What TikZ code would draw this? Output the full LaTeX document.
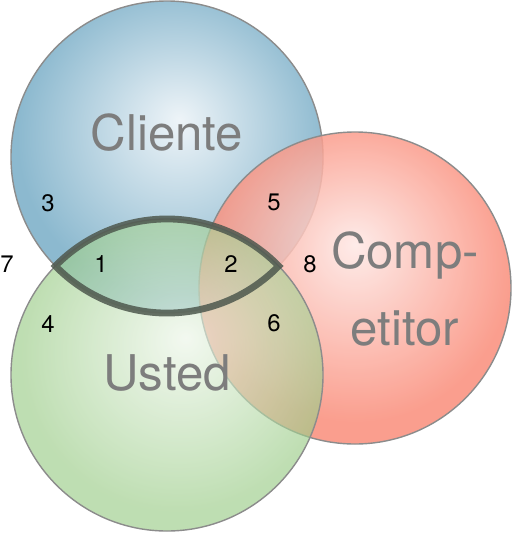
\documentclass[tikz,border=0pt]{standalone}
\usepackage{fontspec}
\setmainfont{TeX Gyre Heros}

\definecolor{clienteHi}{RGB}{238,244,248}
\definecolor{clienteLo}{RGB}{140,185,207}
\definecolor{competitorHi}{RGB}{254,232,229}
\definecolor{competitorLo}{RGB}{249,141,122}
\definecolor{ustedHi}{RGB}{236,245,232}
\definecolor{ustedLo}{RGB}{155,204,136}
\definecolor{circgray}{RGB}{140,140,140}
\definecolor{lensgray}{RGB}{78,88,78}
\definecolor{labelgray}{RGB}{125,125,125}

\pgfdeclareradialshading{clienteball}{\pgfpoint{2bp}{6bp}}{color(0bp)=(clienteHi); color(25bp)=(clienteLo); color(50bp)=(clienteLo)}
\pgfdeclareradialshading{competitorball}{\pgfpoint{0bp}{7bp}}{color(0bp)=(competitorHi); color(25bp)=(competitorLo); color(50bp)=(competitorLo)}
\pgfdeclareradialshading{ustedball}{\pgfpoint{3bp}{6bp}}{color(0bp)=(ustedHi); color(25bp)=(ustedLo); color(50bp)=(ustedLo)}

\begin{document}
\begin{tikzpicture}[x=0.25mm, y=-0.25mm,
    circ/.style={draw=circgray, line width=0.35mm},
    lensline/.style={draw=lensgray, draw opacity=0.85, line width=1.7mm},
    title/.style={text=labelgray, font=\fontsize{35}{55}\selectfont},
    num/.style={font=\fontsize{17}{20}\selectfont}]
    \useasboundingbox (0,0) rectangle (512,534);

    \coordinate (cliente) at (167,157);
    \coordinate (competitor) at (355,288);
    \coordinate (usted) at (167,375);
    \coordinate (tipL) at (55.4,266);

    \shade[circ, shading=clienteball] (cliente) circle (156);
    \shade[circ, shading=competitorball, fill opacity=0.85] (competitor) circle (156);
    \shade[circ, shading=ustedball, fill opacity=0.65] (usted) circle (156);

    \draw[lensline] (tipL) arc[start angle=-135.7, end angle=-44.3, radius=156]
      arc[start angle=44.3, end angle=135.7, radius=156] -- cycle;

    \node[title] (clienteLabel) at (167,133) {Cliente};
    \node[title] (ustedLabel) at (167,373) {Usted};
    \node[title, align=center] (competitorLabel) at (405,289) {Comp-\\etitor};

    \node[num] (n1) at (101,264) {1};
    \node[num] (n2) at (231,264) {2};
    \node[num] (n3) at (48,203) {3};
    \node[num] (n4) at (48,324) {4};
    \node[num] (n5) at (274,202) {5};
    \node[num] (n6) at (274,323) {6};
    \node[num] (n7) at (7,264) {7};
    \node[num] (n8) at (310,264) {8};
\end{tikzpicture}
\end{document}
